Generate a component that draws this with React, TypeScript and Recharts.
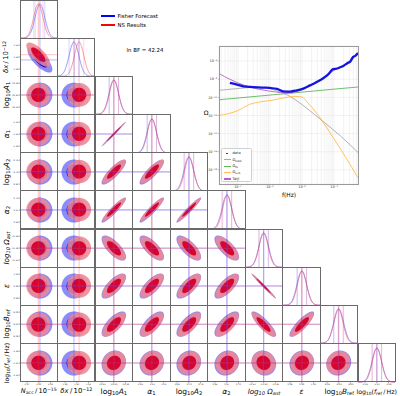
import React from "react";
import {
  Area,
  CartesianGrid,
  ComposedChart,
  Line,
  LineChart,
  ReferenceLine,
  XAxis,
  YAxis,
} from "recharts";

const FONT = '"DejaVu Sans", "Liberation Sans", sans-serif';

// ---- corner plot: parameters in units of the Fisher 1-sigma ----
const N = 10;
const TICK_POS = [-2.5, 0, 2.5];
const TICK_LABELS = [
  ["2.97", "3.00", "3.03"],
  ["1.48", "1.50", "1.52"],
  ["-10.42", "-10.40", "-10.38"],
  ["-1.26", "-1.24", "-1.22"],
  ["-9.82", "-9.79", "-9.76"],
  ["0.64", "0.67", "0.70"],
  ["-11.52", "-11.49", "-11.46"],
  ["0.96", "0.99", "1.02"],
  ["-8.06", "-8.03", "-8.00"],
  ["-2.34", "-2.31", "-2.28"],
];
const FISHER_MEAN = [0.25, -0.6, 0, 0, 0, 0, 0, 0, 0, 0];
const FISHER_SIGMA = [1.04, 1.04, 1.02, 1.02, 1.03, 1.03, 1.03, 1.03, 1.04, 1.03];
const NS_MEAN = [-0.1, 0.5, 0.05, 0.05, 0.1, 0.1, -0.05, 0.05, -0.1, 0.05];
const NS_SIGMA = [1.0, 1.0, 0.98, 0.98, 0.97, 0.97, 0.98, 0.98, 1.0, 0.98];
// correlation of row parameter i with column parameter j (j < i)
const CORR = [
  [],
  [-0.75],
  [0.02, 0.0],
  [0.02, 0.0, 0.995],
  [0.0, 0.0, 0.85, 0.85],
  [0.0, 0.0, 0.93, 0.93, 0.96],
  [0.0, 0.0, -0.72, -0.72, -0.72, -0.72],
  [0.0, 0.0, 0.72, 0.72, 0.72, 0.72, -0.99],
  [0.0, 0.0, 0.7, 0.7, 0.7, 0.7, -0.85, 0.85],
  [0.0, 0.0, 0.12, 0.12, 0.12, 0.12, -0.1, 0.1, 0.1],
];
// 2D contour radii for the outer and inner filled levels
const LEVELS = [2.55, 1.52];

// ---- inset: f [Hz], Omega ----
const DATA_POINTS: [number, number][] = [
  [5.6e-5, 3.9e-9], [1.0e-4, 2.4e-9], [1.45e-4, 1.66e-9], [2.95e-4, 1.38e-9],
  [5.6e-4, 1.2e-9], [1.0e-3, 1.1e-9], [1.66e-3, 8.7e-10], [2.57e-3, 4.7e-10],
  [4.3e-3, 4.4e-10], [6.9e-3, 6.0e-10], [1.15e-2, 1.0e-9], [1.78e-2, 2.1e-9],
  [2.9e-2, 5.0e-9], [4.6e-2, 1.3e-8], [6.6e-2, 3.5e-8], [9.3e-2, 1.3e-7],
  [1.12e-1, 1.4e-7], [1.55e-1, 2.1e-7], [2.0e-1, 3.2e-7], [2.6e-1, 6.0e-7],
  [3.2e-1, 8.9e-7], [3.9e-1, 2.8e-6], [4.7e-1, 4.0e-6], [5.6e-1, 7.8e-6],
];
const TAIJI_POINTS: [number, number][] = [
  [2.57e-5, 4.3e-8], [5.6e-5, 1.0e-8], [1.45e-4, 2.45e-9], [3.4e-4, 1.0e-9],
  [6.9e-4, 6.0e-10], [1.55e-3, 3.9e-10], [2.95e-3, 3.2e-10], [5.0e-3, 3.4e-10],
  [1.0e-2, 7.1e-10], [1.78e-2, 1.9e-9], [4.6e-2, 1.2e-8], [1.0e-1, 1.0e-7],
  [2.5e-1, 5.4e-7], [5.6e-1, 7.1e-6],
];
const DWD_POINTS: [number, number][] = [
  [2.57e-5, 6.0e-10], [1.0e-4, 9.5e-10], [2.3e-4, 1.2e-9], [6.9e-4, 1.25e-9],
  [1.66e-3, 5.0e-10], [4.2e-3, 1.3e-10], [8.7e-3, 2.3e-11], [3.6e-2, 4.3e-13],
  [1.55e-1, 6.0e-15], [5.6e-1, 8.3e-17],
];
const PL_POINTS: [number, number][] = [
  [2.57e-5, 5.5e-11], [1.0e-4, 8.5e-11], [1.0e-3, 1.8e-10], [1.0e-2, 3.8e-10],
  [1.0e-1, 8.1e-10], [5.6e-1, 1.4e-9],
];
const TURB_POINTS: [number, number][] = [
  [2.57e-5, 1.0e-12], [1.0e-4, 3.5e-12], [2.3e-4, 1.66e-11], [5.0e-4, 3.2e-11],
  [1.0e-3, 4.5e-11], [2.0e-3, 7.1e-11], [6.0e-3, 1.3e-10], [1.0e-2, 1.1e-10],
  [1.45e-2, 3.0e-11], [2.95e-2, 1.55e-12], [9.3e-2, 3.9e-15], [5.6e-1, 1.4e-19],
];
const X_DECADES = [1e-5, 1e-4, 1e-3, 1e-2, 1e-1];
const X_MULT = [1, 2, 3, 4, 5, 6, 7, 8, 9];
const Y_TICKS = [1e-6, 1e-8, 1e-10, 1e-12, 1e-14, 1e-16, 1e-18];

// ---- layout ----
const GRID_X0 = 20;
const CELL_W = 37.55;
const CELL_H = 38.17;
const AX_W = 10;
const AX_H = 4;

const BLUE_LIGHT = "#7f7ff6";
const BLUE_DARK = "#0000d8";
const RED_LIGHT = "#ef8793";
const RED_DARK = "#d6002a";

const SUB: React.CSSProperties = { fontSize: "70%", verticalAlign: "-0.28em", lineHeight: 0 };
const SUP: React.CSSProperties = { fontSize: "70%", verticalAlign: "0.5em", lineHeight: 0 };
const SL = "\u2009/\u2009";

const PARAM_LABELS: React.ReactNode[] = [
  <><i>N</i><span style={SUB}>acc</span>{SL}10<span style={SUP}>−15</span></>,
  <><i>δx</i>{SL}10<span style={SUP}>−12</span></>,
  <>log<span style={SUB}>10</span><i>A</i><span style={SUB}>1</span></>,
  <><i>α</i><span style={SUB}>1</span></>,
  <>log<span style={SUB}>10</span><i>A</i><span style={SUB}>2</span></>,
  <><i>α</i><span style={SUB}>2</span></>,
  <><i>log<span style={SUB}>10</span> Ω<span style={SUB}>ast</span></i></>,
  <><i>ε</i></>,
  <>log<span style={SUB}>10</span><i>B</i><span style={SUB}>ref</span></>,
  <>log<span style={SUB}>10</span>(<i>f</i><span style={SUB}>ref</span>{SL}Hz)</>,
];
const LABEL_SIZE = [6.6, 6.8, 7.5, 7.5, 7.5, 7.5, 7.2, 7.5, 7.3, 6.2];

type Blob = { mx: number; my: number; sx: number; sy: number; rho: number };

function rangeAt(b: Blob, k: number, x: number): [number, number] | null {
  const u = (x - b.mx) / (k * b.sx);
  if (Math.abs(u) > 1 + 1e-7) return null;
  const uc = Math.max(-1, Math.min(1, u));
  const c = b.my + b.rho * b.sy * k * uc;
  const h = k * b.sy * Math.sqrt(1 - b.rho * b.rho) * Math.sqrt(1 - uc * uc);
  return [c - h, c + h];
}

function buildJoint(row: number, col: number) {
  const rho = CORR[row][col];
  const fb: Blob = { mx: FISHER_MEAN[col], my: FISHER_MEAN[row], sx: FISHER_SIGMA[col], sy: FISHER_SIGMA[row], rho };
  const nb: Blob = { mx: NS_MEAN[col], my: NS_MEAN[row], sx: NS_SIGMA[col], sy: NS_SIGMA[row], rho };
  const xs: number[] = [];
  [fb, nb].forEach((b) =>
    LEVELS.forEach((k) => {
      for (let t = 0; t <= 40; t++) xs.push(b.mx + k * b.sx * Math.cos((Math.PI * t) / 40));
    })
  );
  xs.sort((a, b) => a - b);
  return xs
    .filter((x, i) => i === 0 || x - xs[i - 1] > 1e-9)
    .map((x) => ({
      x,
      f0: rangeAt(fb, LEVELS[0], x),
      f1: rangeAt(fb, LEVELS[1], x),
      n0: rangeAt(nb, LEVELS[0], x),
      n1: rangeAt(nb, LEVELS[1], x),
    }));
}

function buildMarginal(p: number) {
  const out = [];
  for (let t = 0; t <= 100; t++) {
    const x = -4 + (8 * t) / 100;
    out.push({
      x,
      fy: Math.exp(-0.5 * ((x - FISHER_MEAN[p]) / FISHER_SIGMA[p]) ** 2),
      ny: Math.exp(-0.5 * ((x - NS_MEAN[p]) / NS_SIGMA[p]) ** 2),
    });
  }
  return out;
}

const tickLine = { stroke: "#444", strokeWidth: 0.5 };

function CornerPanel({ row, col }: { row: number; col: number }) {
  const diag = row === col;
  const showX = row === N - 1;
  const showY = col === 0 && !diag;
  const padL = showY ? AX_W : 0;
  const padB = showX ? AX_H : 0;
  const data: any[] = diag ? buildMarginal(col) : buildJoint(row, col);
  const left = GRID_X0 + col * CELL_W;
  const top = row * CELL_H;
  return (
    <>
      <div style={{ position: "absolute", left: left - padL, top }}>
        <ComposedChart
          width={CELL_W + padL}
          height={CELL_H + padB}
          data={data}
          margin={{ top: 0, right: 0, bottom: 0, left: 0 }}
          style={{ overflow: "visible" }}
        >
          <XAxis
            type="number"
            dataKey="x"
            domain={[-4, 4]}
            allowDataOverflow
            ticks={TICK_POS}
            interval={0}
            mirror={!showX}
            height={AX_H}
            axisLine={false}
            tickLine={tickLine}
            tickSize={1.2}
            tickMargin={0.2}
            tick={showX ? { fontSize: 2.2, fill: "#333" } : false}
            tickFormatter={(_v: number, i: number) => TICK_LABELS[col][i]}
          />
          {diag ? (
            <YAxis type="number" domain={[0, 1.12]} hide />
          ) : (
            <YAxis
              type="number"
              domain={[-4, 4]}
              allowDataOverflow
              ticks={TICK_POS}
              interval={0}
              mirror={!showY}
              width={AX_W}
              axisLine={false}
              tickLine={tickLine}
              tickSize={1.2}
              tickMargin={0.3}
              tick={showY ? { fontSize: 2.2, fill: "#333" } : false}
              tickFormatter={(_v: number, i: number) => TICK_LABELS[row][i]}
            />
          )}
          {diag
            ? [
                <Line key="fy" type="monotone" dataKey="fy" stroke="#5a5aff" strokeWidth={0.7} strokeOpacity={0.85} dot={false} activeDot={false} isAnimationActive={false} />,
                <Line key="ny" type="monotone" dataKey="ny" stroke="#ff5a6a" strokeWidth={0.7} strokeOpacity={0.85} dot={false} activeDot={false} isAnimationActive={false} />,
              ]
            : [
                <Area key="f0" type="linear" dataKey="f0" stroke="none" fill={BLUE_LIGHT} fillOpacity={0.9} dot={false} activeDot={false} isAnimationActive={false} />,
                <Area key="f1" type="linear" dataKey="f1" stroke="none" fill={BLUE_DARK} fillOpacity={1} dot={false} activeDot={false} isAnimationActive={false} />,
                <Area key="n0" type="linear" dataKey="n0" stroke="none" fill={RED_LIGHT} fillOpacity={0.88} dot={false} activeDot={false} isAnimationActive={false} />,
                <Area key="n1" type="linear" dataKey="n1" stroke="none" fill={RED_DARK} fillOpacity={0.97} dot={false} activeDot={false} isAnimationActive={false} />,
              ]}
          {diag
            ? [-1, 0, 1].flatMap((s) => [
                <ReferenceLine key={`fb${s}`} x={FISHER_MEAN[col] + s * FISHER_SIGMA[col]} stroke="#3b3bff" strokeOpacity={s === 0 ? 0.55 : 0.3} strokeWidth={0.7} />,
                <ReferenceLine key={`nr${s}`} x={NS_MEAN[col] + s * NS_SIGMA[col]} stroke="#ff3b50" strokeOpacity={s === 0 ? 0.5 : 0.28} strokeWidth={0.7} />,
              ])
            : [
                <ReferenceLine key="vx" x={FISHER_MEAN[col]} stroke="#3b3bff" strokeOpacity={0.55} strokeWidth={0.7} />,
                <ReferenceLine key="vn" x={NS_MEAN[col]} stroke="#ff3b50" strokeOpacity={0.45} strokeWidth={0.7} />,
                <ReferenceLine key="hx" y={FISHER_MEAN[row]} stroke="#3b3bff" strokeOpacity={0.55} strokeWidth={0.7} />,
                <ReferenceLine key="hn" y={NS_MEAN[row]} stroke="#ff3b50" strokeOpacity={0.45} strokeWidth={0.7} />,
              ]}
        </ComposedChart>
      </div>
      <div
        style={{
          position: "absolute",
          left: left - 0.4,
          top: top - 0.4,
          width: CELL_W + 0.8,
          height: CELL_H + 0.8,
          border: "0.8px solid #6a6a6a",
          boxSizing: "border-box",
          pointerEvents: "none",
        }}
      />
    </>
  );
}

const SUPER: Record<string, string> = { "-": "⁻", "0": "⁰", "1": "¹", "2": "²", "3": "³", "4": "⁴", "5": "⁵", "6": "⁶", "7": "⁷", "8": "⁸", "9": "⁹" };
const powerLabel = (v: number) => {
  const e = Math.log10(v);
  if (Math.abs(e - Math.round(e)) > 1e-6) return "";
  return "10" + String(Math.round(e)).split("").map((ch) => SUPER[ch]).join("");
};

const toRows = (pts: [number, number][]) => pts.map(([f, omega]) => ({ f, omega }));
const X_TICKS = X_DECADES.flatMap((d) => X_MULT.map((m) => m * d)).filter((v) => v > 2.57e-5 && v < 0.56);

const INSET_SERIES = [
  { name: "Ω_DWD", pts: DWD_POINTS, color: "#a9a9a9", width: 0.9 },
  { name: "Ω_PL", pts: PL_POINTS, color: "#5cb85c", width: 0.9 },
  { name: "Ω_turb", pts: TURB_POINTS, color: "#ffbb4d", width: 0.9 },
  { name: "Taiji", pts: TAIJI_POINTS, color: "#bb5fc4", width: 0.9 },
  { name: "data", pts: DATA_POINTS, color: "#1414e0", width: 2.3 },
];

function Inset() {
  return (
    <>
      <div style={{ position: "absolute", left: 195, top: 40 }}>
        <LineChart width={167} height={156} margin={{ top: 6, right: 4, bottom: 0, left: 0 }}>
          <CartesianGrid stroke="#e4e4e4" strokeWidth={0.5} />
          <XAxis
            type="number"
            dataKey="f"
            scale="log"
            domain={[2.57e-5, 0.56]}
            allowDataOverflow
            ticks={X_TICKS}
            interval={0}
            tickFormatter={powerLabel}
            height={12}
            axisLine={false}
            tickLine={{ stroke: "#666", strokeWidth: 0.4 }}
            tickSize={1.2}
            tickMargin={0.8}
            tick={{ fontSize: 3.4, fill: "#333" }}
          />
          <YAxis
            type="number"
            scale="log"
            domain={[2.75e-20, 4.7e-5]}
            allowDataOverflow
            ticks={Y_TICKS}
            interval={0}
            tickFormatter={powerLabel}
            width={24}
            axisLine={false}
            tickLine={{ stroke: "#666", strokeWidth: 0.4 }}
            tickSize={1.2}
            tickMargin={0.8}
            tick={{ fontSize: 3.4, fill: "#333" }}
          />
          {INSET_SERIES.map((s) => (
            <Line
              key={s.name}
              data={toRows(s.pts)}
              dataKey="omega"
              type="monotone"
              stroke={s.color}
              strokeWidth={s.width}
              dot={false}
              activeDot={false}
              isAnimationActive={false}
            />
          ))}
        </LineChart>
      </div>
      <div style={{ position: "absolute", left: 218.5, top: 45.5, width: 140, height: 139, border: "0.8px solid #9a9a9a", boxSizing: "border-box" }} />
      <div style={{ position: "absolute", left: 206, top: 112, transform: "translate(-50%,-50%)", fontSize: 6.2 }}>Ω</div>
      <div style={{ position: "absolute", left: 289, top: 195, transform: "translate(-50%,-50%)", fontSize: 5.8, whiteSpace: "nowrap" }}>f(Hz)</div>
      <div
        style={{
          position: "absolute",
          left: 221,
          top: 148,
          width: 31,
          height: 34,
          border: "0.5px solid #d0d0d0",
          borderRadius: 1.5,
          background: "rgba(255,255,255,0.85)",
          boxSizing: "border-box",
          fontSize: 3.6,
          lineHeight: "6.4px",
          paddingTop: 1.2,
        }}
      >
        {[
          { key: "data", color: "#1414e0", label: <>data</>, dot: true },
          { key: "dwd", color: "#a9a9a9", label: <>Ω<span style={SUB}>DWD</span></> },
          { key: "pl", color: "#5cb85c", label: <>Ω<span style={SUB}>PL</span></> },
          { key: "turb", color: "#ffbb4d", label: <>Ω<span style={SUB}>turb</span></> },
          { key: "taiji", color: "#bb5fc4", label: <>Taiji</> },
        ].map((e) => (
          <div key={e.key} style={{ display: "flex", alignItems: "center", height: 6.4 }}>
            <div style={{ width: 7, marginLeft: 1.5, marginRight: 2, display: "flex", justifyContent: "center" }}>
              {e.dot ? (
                <div style={{ width: 1.6, height: 1.6, borderRadius: 1, background: e.color }} />
              ) : (
                <div style={{ width: 7, height: 1.2, background: e.color }} />
              )}
            </div>
            <span style={{ color: "#222" }}>{e.label}</span>
          </div>
        ))}
      </div>
    </>
  );
}

export default function App() {
  const panels: React.ReactNode[] = [];
  for (let r = 0; r < N; r++) for (let c = 0; c <= r; c++) panels.push(<CornerPanel key={`${r}-${c}`} row={r} col={c} />);
  return (
    <div style={{ position: "absolute", left: 0, top: 0, width: 400, height: 396, background: "#fff", fontFamily: FONT, color: "#000", overflow: "hidden" }}>
      {panels}
      {PARAM_LABELS.map((lab, j) => (
        <div
          key={`b${j}`}
          style={{ position: "absolute", left: GRID_X0 + (j + 0.5) * CELL_W, top: 390.5, transform: "translate(-50%,-50%)", fontSize: LABEL_SIZE[j], whiteSpace: "nowrap" }}
        >
          {lab}
        </div>
      ))}
      {PARAM_LABELS.slice(1).map((lab, k) => (
        <div
          key={`l${k}`}
          style={{ position: "absolute", left: 6, top: (k + 1.5) * CELL_H, transform: "translate(-50%,-50%) rotate(-90deg)", fontSize: LABEL_SIZE[k + 1], whiteSpace: "nowrap" }}
        >
          {lab}
        </div>
      ))}
      <div style={{ position: "absolute", left: 100.5, top: 15, width: 14, height: 2, background: "#0000ff" }} />
      <div style={{ position: "absolute", left: 117.5, top: 16, transform: "translateY(-50%)", fontSize: 5.4, whiteSpace: "nowrap" }}>Fisher Forecast</div>
      <div style={{ position: "absolute", left: 100.5, top: 24, width: 14, height: 2, background: "#ff0000" }} />
      <div style={{ position: "absolute", left: 117.5, top: 25, transform: "translateY(-50%)", fontSize: 5.4, whiteSpace: "nowrap" }}>NS Results</div>
      <div style={{ position: "absolute", left: 145, top: 50, transform: "translate(-50%,-50%)", fontSize: 5.4, whiteSpace: "nowrap" }}>ln BF = 42.24</div>
      <Inset />
    </div>
  );
}
